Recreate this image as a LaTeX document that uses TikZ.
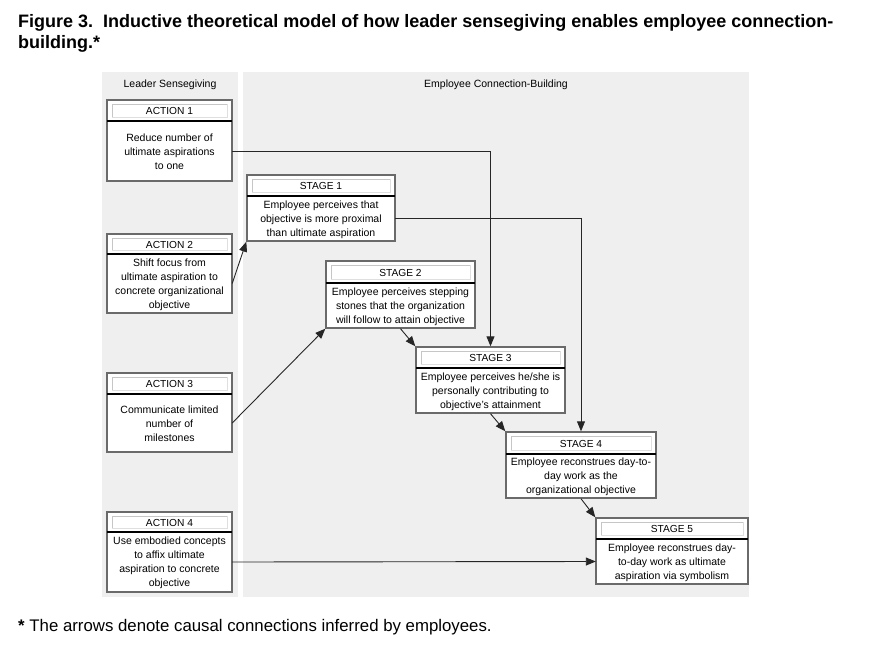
\documentclass[tikz,border=0pt]{standalone}
\usepackage{fontspec}
\setmainfont{Liberation Sans}
\usetikzlibrary{arrows.meta}
\definecolor{panel}{HTML}{EFEFEF}
\definecolor{boxline}{HTML}{6A6A6A}
\tikzset{
  arr/.style={draw=black!85, line width=0.9pt, -{Triangle[length=10pt,width=8pt]}},
  headtxt/.style={font=\fontsize{10.2}{12}\selectfont, inner sep=0pt},
  bodytxt/.style={font=\fontsize{10.5}{14}\selectfont, align=center, inner sep=0pt},
  paneltxt/.style={font=\fontsize{10.5}{12}\selectfont, inner sep=0pt},
}
% #1 name, #2 x1, #3 y1, #4 x2, #5 yh, #6 y2, #7 title, #8 body
\newcommand\mkbox[8]{%
  \node[fill=white, draw=boxline, line width=1.4pt, inner sep=0pt, minimum width={#4-#2}, minimum height={#6-#3}] (#1) at ({(#2+#4)/2},{(#3+#6)/2}) {};
  \draw[white, line width=0.6pt] (#2+1.5,#6-1.5) -- (#2+1.5,#3+1.5) -- (#4-1.5,#3+1.5);
  \draw[gray!45, line width=0.6pt] (#2+5,#5-3.5) -- (#2+5,#3+4) -- (#4-5,#3+4);
  \draw[gray!25, line width=0.6pt] (#4-5,#3+4) -- (#4-5,#5-3.5) -- (#2+5,#5-3.5);
  \draw[black, line width=1.8pt] (#2,#5) -- (#4,#5);
  \node[headtxt] (#1h) at ({(#2+#4)/2},{(#3+#5)/2+0.5}) {#7};
  \node[inner sep=0pt, minimum width={#4-#2}, minimum height={#6-#5}] (#1b) at ({(#2+#4)/2},{(#5+#6)/2}) {};
  \node[bodytxt] (#1t) at ([yshift=-1pt]#1b.center) {#8};
}
\begin{document}
\begin{tikzpicture}[x=1pt,y=-1pt]
\useasboundingbox[fill=white] (0,0) rectangle (874,647);
% title
\node[anchor=north west, inner sep=0pt, align=left, font=\bfseries\fontsize{18}{21}\selectfont] (title) at (18,14)
  {Figure 3.\ \ Inductive theoretical model of how leader sensegiving enables employee connection-\\building.*};
% panels
\fill[panel] (102,72) rectangle (238,597);
\fill[panel] (243,72) rectangle (749,597);
\node[paneltxt] (pl) at (170,85) {Leader Sensegiving};
\node[paneltxt] (pr) at (496,85) {Employee Connection-Building};
% actions
\mkbox{a1}{107}{100}{232}{121}{181}{ACTION 1}{Reduce number of\\ultimate aspirations\\to one}
\mkbox{a2}{107}{234}{232}{254}{313}{ACTION 2}{Shift focus from\\ultimate aspiration to\\concrete organizational\\objective}
\mkbox{a3}{107}{373}{232}{394}{452}{ACTION 3}{Communicate limited\\number of\\milestones}
\mkbox{a4}{107}{512}{232}{532}{592}{ACTION 4}{Use embodied concepts\\to affix ultimate\\aspiration to concrete\\objective}
% stages
\mkbox{s1}{247}{175}{395}{196}{241}{STAGE 1}{Employee perceives that\\objective is more proximal\\than ultimate aspiration}
\mkbox{s2}{326}{261}{475}{283}{328}{STAGE 2}{Employee perceives stepping\\stones that the organization\\will follow to attain objective}
\mkbox{s3}{416}{347}{565}{368}{413}{STAGE 3}{Employee perceives he/she is\\personally contributing to\\objective’s attainment}
\mkbox{s4}{506}{432}{656}{454}{498}{STAGE 4}{Employee reconstrues day-to-\\day work as the\\organizational objective}
\mkbox{s5}{596}{518}{748}{539}{584}{STAGE 5}{Employee reconstrues day-\\to-day work as ultimate\\aspiration via symbolism}
% connectors
\draw[arr] (a1b.east) -| (s3.north);
\draw[arr] (s1b.east) -| (s4.north);
\draw[arr] (a2b.east) -- (s1.south west);
\draw[arr] (a3b.east) -- (s2.south west);
\draw[arr] (a4b.east) -- (s5b.west);
\draw[arr] (s2.south) -- (s3.north west);
\draw[arr] (s3.south) -- (s4.north west);
\draw[arr] (s4.south) -- (s5.north west);
% footnote
\node[anchor=base west, inner sep=0pt, font=\fontsize{16.8}{18}\selectfont] (foot) at (18,631) {\textbf{*} The arrows denote causal connections inferred by employees.};
\end{tikzpicture}
\end{document}
